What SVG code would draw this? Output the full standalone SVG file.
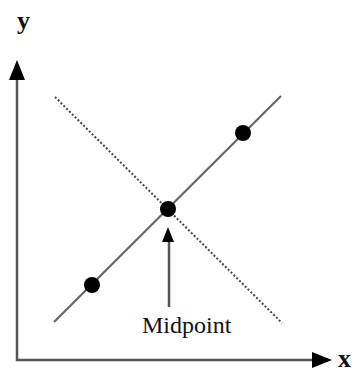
<svg xmlns="http://www.w3.org/2000/svg" width="358" height="372" viewBox="0 0 358 372">
<style>
.axis{stroke:#555;stroke-width:2.5;fill:none}
.line{stroke:#666;stroke-width:2.2;fill:none}
.dot{stroke:#444;stroke-width:2;stroke-dasharray:2 2;fill:none}
.pt{fill:#000}
.head{fill:#000}
.lbl{font-family:"Liberation Serif",serif;fill:#111}
</style>
<rect width="358" height="372" fill="#fff"/>
<g id="connectors">
<polyline class="axis" points="17,78 17,360 314,360"/>
<polygon class="head" points="17,60 9,80 25,80"/>
<polygon class="head" points="332,360 312,352 312,368"/>
<line class="line" x1="54" y1="322" x2="281" y2="96"/>
<line class="dot" x1="55" y1="97" x2="282" y2="323"/>
<line class="axis" x1="169" y1="240" x2="169" y2="307"/>
<polygon class="head" points="168,227 162,242 174,242"/>
</g>
<g id="p1"><circle class="pt" cx="92" cy="285" r="8"/></g>
<g id="p2"><circle class="pt" cx="168" cy="209" r="8"/></g>
<g id="p3"><circle class="pt" cx="243" cy="133" r="8"/></g>
<g id="label-y"><text class="lbl" x="17" y="29" font-size="26" font-weight="bold">y</text></g>
<g id="label-x"><text class="lbl" x="338" y="367" font-size="26" font-weight="bold">x</text></g>
<g id="label-mid"><text class="lbl" x="142" y="333" font-size="24">Midpoint</text></g>
</svg>
